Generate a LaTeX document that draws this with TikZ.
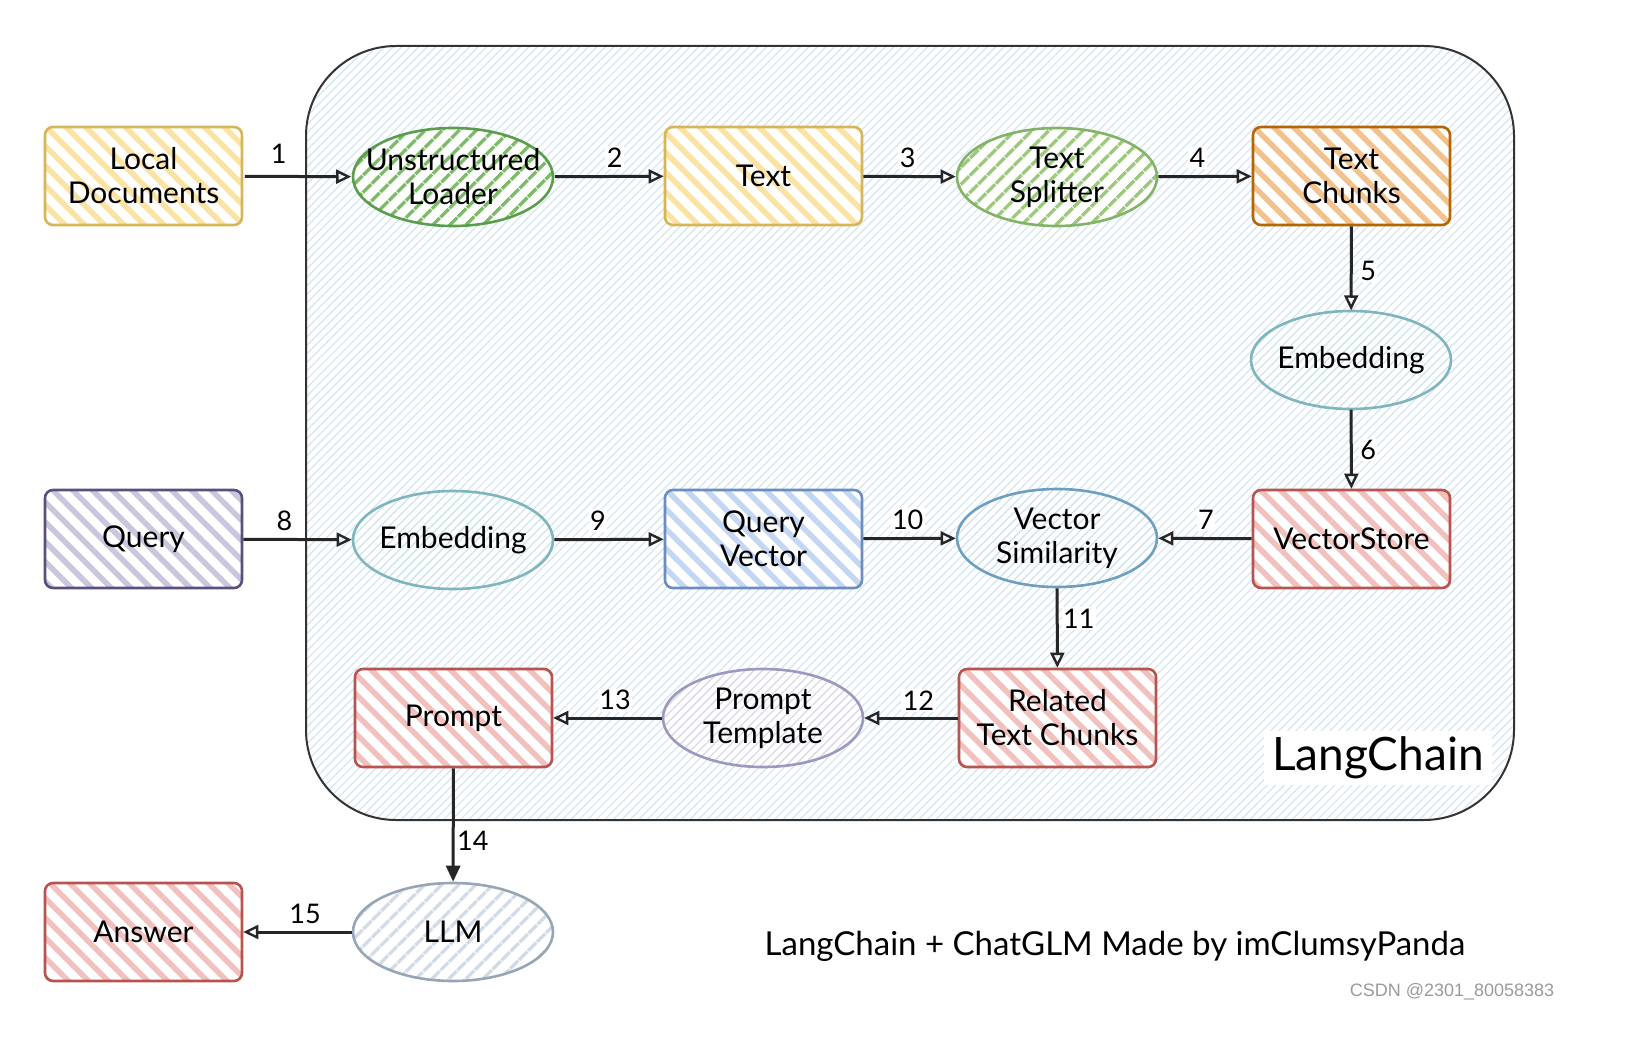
\documentclass[tikz,border=0pt]{standalone}
\usepackage{fontspec}
\setmainfont{Lato}
\newfontfamily\wmfont{Liberation Sans}
\usetikzlibrary{shapes.geometric,arrows.meta,patterns.meta}
\definecolor{yelD}{HTML}{D6B656}\definecolor{yelL}{HTML}{FBE3A4}
\definecolor{grnD}{HTML}{5A9E4B}\definecolor{grnL}{HTML}{7CBB68}
\definecolor{grn2D}{HTML}{82B366}\definecolor{grn2L}{HTML}{9CC97C}
\definecolor{orgD}{HTML}{B46504}\definecolor{orgL}{HTML}{F3C28C}
\definecolor{tealD}{HTML}{7FB5BE}\definecolor{tealL}{HTML}{CDE5EA}
\definecolor{redD}{HTML}{B85450}\definecolor{redL}{HTML}{F2C0BD}
\definecolor{purD}{HTML}{56517E}\definecolor{purL}{HTML}{CAC6DE}
\definecolor{bluD}{HTML}{6C8EBF}\definecolor{bluL}{HTML}{C3D6F3}
\definecolor{vsD}{HTML}{6E9FC0}\definecolor{vsL}{HTML}{CFE2F0}
\definecolor{ptD}{HTML}{9C99BF}\definecolor{ptL}{HTML}{DAD8EA}
\definecolor{llmD}{HTML}{97A6B6}\definecolor{llmL}{HTML}{D3DCE6}
\definecolor{bgL}{HTML}{D3E6F4}
\definecolor{wmgray}{HTML}{9A9A9A}
\tikzset{
  base/.style={align=center, font=\fontsize{30}{34}\selectfont, inner sep=0pt, line width=2.6pt, preaction={fill=white}},
  box/.style={base, rectangle, rounded corners=8pt, minimum width=197pt, minimum height=98pt},
  oval/.style={base, ellipse, inner xsep=-22pt, inner ysep=-10pt, minimum width=200pt, minimum height=98pt},
  thick hatch/.style={pattern={Lines[angle=-45,distance=14pt,line width=5.5pt]}},
  thick fhatch/.style={pattern={Lines[angle=45,distance=13pt,line width=3.8pt]}},
  fine hatch/.style={pattern={Lines[angle=45,distance=6pt,line width=1.3pt]}},
  yelbox/.style={box, draw=yelD, thick hatch, pattern color=yelL},
  orgbox/.style={box, draw=orgD, thick hatch, pattern color=orgL},
  redbox/.style={box, draw=redD, thick hatch, pattern color=redL},
  purbox/.style={box, draw=purD, thick hatch, pattern color=purL},
  blubox/.style={box, draw=bluD, thick hatch, pattern color=bluL},
  grnoval/.style={oval, draw=grnD, thick fhatch, pattern color=grnL},
  grn2oval/.style={oval, draw=grn2D, thick fhatch, pattern color=grn2L},
  tealoval/.style={oval, draw=tealD, fine hatch, pattern color=tealL},
  vsoval/.style={oval, draw=vsD, fine hatch, pattern color=vsL},
  ptoval/.style={oval, draw=ptD, fine hatch, pattern color=ptL},
  llmoval/.style={oval, draw=llmD, thick fhatch, pattern color=llmL},
  arr/.style={line width=3pt, draw=black!85, -{Triangle[open, length=15pt, width=14pt, line width=2.4pt]}},
  arrf/.style={line width=3pt, draw=black!85, -{Triangle[length=16pt, width=14pt]}},
  lab/.style={font=\fontsize{27}{30}\selectfont, fill=white, inner sep=1.5pt},
}
\begin{document}
\begin{tikzpicture}[x=1pt,y=-1pt]
\useasboundingbox (0,0) rectangle (1633,1051);
% container
\draw[line width=2pt, draw=black!80, rounded corners=90pt, preaction={fill=white}, pattern={Lines[angle=45,distance=6pt,line width=1.2pt]}, pattern color=bgL] (306,46) rectangle (1514,820);
% nodes
\node[yelbox] (ld) at (143.5,176) {Local\\Documents};
\node[grnoval] (ul) at (453,177) {Unstructured\\Loader};
\node[yelbox] (tx) at (763.5,176) {Text};
\node[grn2oval] (ts) at (1057,177) {Text\\Splitter};
\node[orgbox] (tc) at (1351.5,176) {Text\\Chunks};
\node[tealoval] (em1) at (1351,360) {Embedding};
\node[redbox] (vs) at (1351.5,539) {VectorStore};
\node[purbox] (q) at (143.5,539) {Query};
\node[tealoval] (em2) at (453,540) {Embedding};
\node[blubox] (qv) at (763.5,539) {Query\\Vector};
\node[vsoval] (sim) at (1057,538) {Vector\\Similarity};
\node[redbox] (rt) at (1057.5,718) {Related\\Text Chunks};
\node[ptoval] (pt) at (763,718) {Prompt\\Template};
\node[redbox] (pr) at (453.5,718) {Prompt};
\node[llmoval] (llm) at (453,932) {LLM};
\node[redbox] (ans) at (143.5,932) {Answer};
% title labels
\node[fill=white, font=\fontsize{46}{50}\selectfont, inner xsep=8pt, inner ysep=6pt] (lc) at (1378,758) {LangChain};
\node[font=\fontsize{33}{38}\selectfont] (foot) at (1115,946) {LangChain + ChatGLM Made by imClumsyPanda};
\node[font=\wmfont\fontsize{18}{21}\selectfont, text=wmgray] (wm) at (1452,992) {CSDN @2301\_80058383};
% connectors
\draw[arr] (ld) -- node[lab, pos=0.32, above=10pt] {1} (ul);
\draw[arr] (ul) -- node[lab, pos=0.55, above=6pt] {2} (tx);
\draw[arr] (tx) -- node[lab, pos=0.48, above=6pt] {3} (ts);
\draw[arr] (ts) -- node[lab, pos=0.42, above=6pt] {4} (tc);
\draw[arr] (tc) -- node[lab, pos=0.53, right=6pt] {5} (em1);
\draw[arr] (em1) -- node[lab, pos=0.51, right=6pt] {6} (vs);
\draw[arr] (vs) -- node[lab, pos=0.49, above=6pt] {7} (sim);
\draw[arr] (q) -- node[lab, pos=0.38, above=6pt] {8} (em2);
\draw[arr] (em2) -- node[lab, pos=0.4, above=6pt] {9} (qv);
\draw[arr] (qv) -- node[lab, pos=0.48, above=6pt] {10} (sim);
\draw[arr] (sim) -- node[lab, pos=0.38, right=3pt] {11} (rt);
\draw[arr] (rt) -- node[lab, pos=0.42, above=5pt] {12} (pt);
\draw[arr] (pt) -- node[lab, pos=0.43, above=5pt] {13} (pr);
\draw[arrf] (pr) -- node[lab, pos=0.64, right=1pt] {14} (llm);
\draw[arr] (llm) -- node[lab, pos=0.43, above=5pt] {15} (ans);
\end{tikzpicture}
\end{document}
